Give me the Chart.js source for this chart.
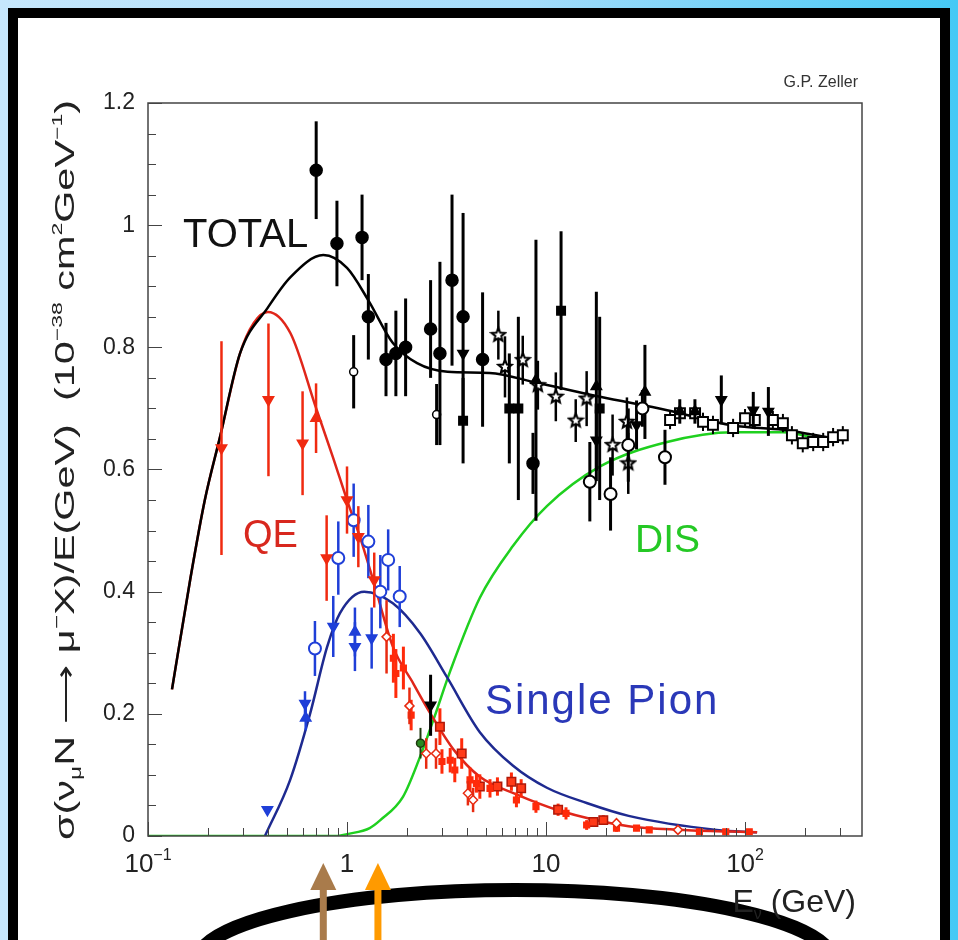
<!DOCTYPE html>
<html>
<head>
<meta charset="utf-8">
<script src="https://cdn.jsdelivr.net/npm/chart.js@4.4.1/dist/chart.umd.min.js"></script>
<style>
  html, body { margin: 0; padding: 0; }
  body {
    width: 958px; height: 940px; overflow: hidden; position: relative;
    background: linear-gradient(90deg, #c6e7fc 0%, #a4dcfb 55%, #45c9f5 100%);
  }
  #panel {
    position: absolute; left: 8px; top: 8px; width: 942px; height: 960px;
    box-sizing: border-box; border: 10px solid #000; border-bottom: none; background: #fff;
  }
  #chart { position: absolute; left: 0; top: 0; }
</style>
</head>
<body>
<div id="panel"></div>
<canvas id="chart" width="958" height="940"></canvas>
<script>
// ==========================================
// 1. DATA  (E in GeV, sigma/E in 1e-38 cm^2/GeV)
// ==========================================
const yTickLabels = ['0', '0.2', '0.4', '0.6', '0.8', '1', '1.2'];
const xTickValues = [0.1, 1, 10, 100];
const xTickLabels = [['10', '\u22121'], ['1', ''], ['10', ''], ['10', '2']];

// model curves
const totalE  = [0.132, 0.163, 0.193, 0.23, 0.29, 0.40, 0.52, 0.76, 1.0, 1.28, 1.7, 2.25, 3.2, 5.2, 9.0, 18.7, 40.6, 87, 155, 277];
const totalXs = [0.24, 0.42, 0.55, 0.653, 0.79, 0.865, 0.915, 0.951, 0.93, 0.877, 0.807, 0.774, 0.76, 0.758, 0.742, 0.719, 0.697, 0.672, 0.665, 0.651];

const qeE  = [0.132, 0.163, 0.193, 0.23, 0.29, 0.34, 0.40, 0.52, 0.70, 0.85, 1.0, 1.16, 1.35, 1.7, 2.15, 2.63, 3.44, 4.65, 7.1, 11.3, 26, 49, 115];
const qeXs = [0.24, 0.42, 0.55, 0.653, 0.79, 0.84, 0.858, 0.823, 0.70, 0.62, 0.55, 0.49, 0.42, 0.31, 0.25, 0.20, 0.141, 0.097, 0.068, 0.043, 0.016, 0.01, 0.006];

const pionE  = [0.387, 0.518, 0.652, 0.795, 0.922, 1.22, 1.7, 2.33, 3.18, 4.65, 6.83, 10.1, 16, 26, 72, 115];
const pionXs = [0, 0.092, 0.2, 0.31, 0.365, 0.40, 0.381, 0.332, 0.26, 0.17, 0.115, 0.079, 0.054, 0.033, 0.01, 0.006];

const disE  = [0.1, 0.9, 1.0, 1.3, 1.47, 1.91, 2.33, 2.75, 3.3, 4.65, 6.83, 10.1, 18.7, 40.6, 87, 155, 267];
const disXs = [0, 0, 0.003, 0.013, 0.026, 0.064, 0.13, 0.195, 0.27, 0.39, 0.475, 0.54, 0.605, 0.645, 0.661, 0.661, 0.645];

// measurements [E, value, error]
const blackDot = [[0.70,1.09,0.08],[0.89,0.97,0.07],[1.19,0.98,0.07],[1.28,0.85,0.07],[1.57,0.78,0.06],[1.76,0.79,0.07],
  [1.97,0.80,0.08],[2.63,0.83,0.08],[2.93,0.79,0.15],[3.37,0.91,0.14],[3.83,0.85,0.17],[4.8,0.78,0.11],[8.6,0.61,0.05]];
const blackRing = [[1.08,0.76,0.06],[2.82,0.69,0.05]];
const blackRingBig = [[16.6,0.58,0.065],[21.1,0.56,0.06],[25.9,0.64,0.06],[30.5,0.70,0.03],[39.6,0.62,0.045]];
const blackSquare = [[3.83,0.68,0.07],[6.54,0.70,0.09],[7.26,0.70,0.15],[11.9,0.86,0.13],[18.6,0.70,0.15]];
const blackTriDown = [[3.83,0.79,0],[17.9,0.648,0.05],[28.5,0.673,0.04],[76,0.714,0.04],[110,0.697,0.03],[131,0.695,0.04],[2.63,0.214,0.05]];
const blackTriUp = [[8.9,0.746,0.23],[17.9,0.736,0.155],[31.4,0.727,0.077],[47,0.695,0.02],[56,0.695,0.02]];
const blackStar = [[5.76,0.82,0.04],[6.22,0.768,0.05],[7.64,0.779,0.04],[9.1,0.738,0.04],[11.2,0.719,0.04],[14.1,0.68,0.035],
  [16.0,0.716,0.045],[21.6,0.64,0.05],[25.5,0.678,0.04],[25.9,0.61,0.05]];
const blackOpenSq = [[42,0.681,0.015],[47.1,0.692,0.015],[56.1,0.692,0.015],[61.5,0.678,0.015],[69,0.673,0.015],[87.1,0.668,0.015],
  [100,0.684,0.015],[112,0.681,0.015],[138,0.681,0.015],[155,0.676,0.015],[172,0.656,0.015],[195,0.643,0.015],[220,0.645,0.015],
  [247,0.645,0.015],[277,0.653,0.015],[310,0.656,0.015]];

const redTriDown = [[0.234,0.635,0.175],[0.403,0.714,0.125],[0.598,0.643,0.085],[0.79,0.455,0.07],[1.0,0.55,0.055],[1.14,0.49,0.05],[1.37,0.419,0.045]];
const redTriUp = [[0.699,0.684,0.057]];
const redRing = [[1.58,0.326,0.06],[2.06,0.213,0.03],[2.5,0.135,0.025],[2.8,0.135,0.025],[4.05,0.07,0.02],[4.3,0.059,0.02],[22.6,0.021,0.005],[46,0.01,0.005]];
const redCross = [[1.71,0.291,0.04],[1.76,0.266,0.04],[1.92,0.275,0.035],[2.1,0.198,0.025],[3.0,0.122,0.02],[3.3,0.124,0.02],
  [3.48,0.108,0.02],[4.15,0.092,0.02],[4.47,0.086,0.015],[5.23,0.078,0.015],[7.1,0.059,0.012],[8.9,0.048,0.01],[12.6,0.037,0.01],
  [16.0,0.018,0.008],[22.6,0.013,0.006],[28.5,0.013,0.005],[33,0.01,0.005],[59,0.007,0.004],[80,0.007,0.004],[105,0.007,0.004]];
const redSquare = [[2.93,0.179,0.03],[3.77,0.135,0.025],[4.65,0.081,0.02],[5.7,0.081,0.015],[6.7,0.089,0.015],[7.5,0.078,0.015],
  [11.5,0.043,0.01],[17.3,0.023,0.008],[19.4,0.026,0.008]];

const blueRing = [[0.69,0.307,0.045],[0.904,0.455,0.06],[1.08,0.517,0.06],[1.28,0.482,0.06],[1.47,0.40,0.06],[1.61,0.452,0.05],[1.84,0.392,0.05]];
const blueTriDown = [[0.398,0.043,0],[0.615,0.217,0.02],[0.853,0.343,0.05],[1.096,0.31,0.04],[1.33,0.324,0.05]];
const blueTriUp = [[0.62,0.193,0.02],[1.096,0.334,0.04]];
const greenRing = [[2.34,0.152,0.025]];

// energies marked by the arrows under the axis
const arrowE = [0.76, 1.43];
const arrowColors = ['#a97b4b', '#ff9a00'];

// ==========================================
// 2. HELPERS
// ==========================================
const curve = (xs, ys) => xs.map((x, i) => ({ x: x, y: ys[i] }));
const pts = arr => arr.map(p => ({ x: p[0], y: p[1], e: p[2] }));

function makeStar(r, fill, stroke) {
    const c = document.createElement('canvas');
    const s = Math.ceil(2 * r + 4);
    c.width = c.height = s;
    const g = c.getContext('2d');
    g.beginPath();
    for (let i = 0; i < 10; i++) {
        const rr = i % 2 ? r * 0.45 : r;
        const a = -Math.PI / 2 + i * Math.PI / 5;
        g.lineTo(s / 2 + rr * Math.cos(a), s / 2 + rr * Math.sin(a));
    }
    g.closePath();
    g.fillStyle = fill; g.fill();
    g.lineWidth = 2; g.strokeStyle = stroke; g.stroke();
    return c;
}

function lineSet(xs, ys, color) {
    return {
        type: 'line', data: curve(xs, ys), borderColor: color, borderWidth: 2.5,
        pointRadius: 0, tension: 0.4, cubicInterpolationMode: 'monotone', order: 10
    };
}

function markSet(arr, style, color, opts) {
    return Object.assign({
        type: 'scatter', data: pts(arr), pointStyle: style, pointRadius: 6,
        pointBackgroundColor: color, pointBorderColor: color, pointBorderWidth: 1.5,
        errColor: color, errWidth: 3, order: 0
    }, opts || {});
}

function richWidth(ctx, parts, size, family) {
    let w = 0;
    parts.forEach(p => { ctx.font = Math.round(size * p[1]) + 'px ' + family; w += ctx.measureText(p[0]).width; });
    return w;
}

function drawRich(ctx, parts, x, y, size, family, align) {
    const w = richWidth(ctx, parts, size, family);
    let cx = align === 'center' ? x - w / 2 : (align === 'right' ? x - w : x);
    ctx.textAlign = 'left';
    ctx.textBaseline = 'alphabetic';
    parts.forEach(p => {
        ctx.font = Math.round(size * p[1]) + 'px ' + family;
        ctx.fillText(p[0], cx, y + p[2] * size);
        cx += ctx.measureText(p[0]).width;
    });
}

const FONT = '"Liberation Sans", Arial, sans-serif';

// ==========================================
// 3. PLUGINS
// ==========================================
const errorBars = {
    id: 'errorBars',
    beforeDatasetDraw(chart, args) {
        const ds = chart.data.datasets[args.index];
        if (!ds.errColor) return;
        const ctx = chart.ctx, ys = chart.scales.y;
        const meta = chart.getDatasetMeta(args.index);
        ctx.save();
        ctx.strokeStyle = ds.errColor;
        ctx.lineWidth = ds.errWidth;
        meta.data.forEach((el, i) => {
            const d = ds.data[i];
            if (!d.e) return;
            ctx.beginPath();
            ctx.moveTo(el.x, ys.getPixelForValue(d.y + d.e));
            ctx.lineTo(el.x, ys.getPixelForValue(Math.max(0, d.y - d.e)));
            ctx.stroke();
        });
        ctx.restore();
    }
};

const decorations = {
    id: 'decorations',
    afterDraw(chart) {
        const ctx = chart.ctx, a = chart.chartArea;
        const xs = chart.scales.x, ys = chart.scales.y;
        ctx.save();

        // big arc under the axis (drawn first so the texts and arrows sit over it)
        ctx.beginPath();
        ctx.ellipse(515, 962, 318, 72, 0, Math.PI, 2 * Math.PI);
        ctx.lineWidth = 14;
        ctx.strokeStyle = '#000';
        ctx.stroke();

        // arrows pointing at energies on the axis
        arrowE.forEach((e, i) => {
            const px = xs.getPixelForValue(e);
            ctx.fillStyle = arrowColors[i];
            ctx.fillRect(px - 3.5, 886, 7, 60);
            ctx.beginPath();
            ctx.moveTo(px, 863);
            ctx.lineTo(px - 13, 890);
            ctx.lineTo(px + 13, 890);
            ctx.closePath();
            ctx.fill();
        });

        // frame
        ctx.strokeStyle = '#444';
        ctx.lineWidth = 1.5;
        ctx.strokeRect(a.left, a.top, a.right - a.left, a.bottom - a.top);

        // inner ticks on y
        ctx.beginPath();
        for (let k = 0; k <= 24; k++) {
            const py = Math.round(ys.getPixelForValue(k * 0.05)) + 0.5;
            const len = k % 4 === 0 ? 14 : 8;
            ctx.moveTo(a.left, py); ctx.lineTo(a.left + len, py);
        }
        // inner ticks on x
        for (let d = 0.1; d < 1000; d *= 10) {
            for (let m = 1; m <= 9; m++) {
                const v = d * m;
                if (v > xs.max) break;
                const px = Math.round(xs.getPixelForValue(v)) + 0.5;
                const len = m === 1 ? 14 : 8;
                ctx.moveTo(px, a.bottom); ctx.lineTo(px, a.bottom - len);
            }
        }
        ctx.lineWidth = 1;
        ctx.stroke();

        // x tick labels
        ctx.fillStyle = '#222';
        xTickValues.forEach((v, i) => {
            const lab = xTickLabels[i];
            const parts = [[lab[0], 1, 0]];
            if (lab[1]) parts.push([lab[1], 0.62, -0.45]);
            drawRich(ctx, parts, xs.getPixelForValue(v), a.bottom + 36, 26, FONT, 'center');
        });

        // x title
        drawRich(ctx, [['E', 1, 0], ['\u03bd', 0.5, 0.22], [' (GeV)', 1, 0]], a.right - 6, a.bottom + 76, 32, FONT, 'right');

        // y title (rotated, stretched along the axis like the original)
        const yTitle = [
            ['\u03c3(\u03bd', 1, 0], ['\u03bc', 0.6, 0.25], ['N \u27f6 \u03bc', 1, 0], ['\u2212', 0.6, -0.45],
            ['X)/E(GeV)  (10', 1, 0], ['\u221238', 0.55, -0.45], [' cm', 1, 0], ['2', 0.55, -0.45],
            ['GeV', 1, 0], ['\u22121', 0.55, -0.45], [')', 1, 0]
        ];
        const tw = richWidth(ctx, yTitle, 27, FONT);
        ctx.save();
        ctx.translate(64, 470);
        ctx.rotate(-Math.PI / 2);
        ctx.scale(740 / tw, 1);
        drawRich(ctx, yTitle, 0, 10, 27, FONT, 'center');
        ctx.restore();

        // author tag
        ctx.fillStyle = '#333';
        drawRich(ctx, [['G.P. Zeller', 1, 0]], a.right - 4, a.top - 16, 16, FONT, 'right');

        // curve labels, anchored in data coordinates
        const lbl = (t, e, v, size, color) => {
            ctx.fillStyle = color;
            drawRich(ctx, [[t, 1, 0]], xs.getPixelForValue(e), ys.getPixelForValue(v), size, FONT, 'left');
        };
        lbl('TOTAL', 0.15, 0.964, 40, '#111');
        lbl('QE', 0.30, 0.473, 38, '#d8281e');
        lbl('DIS', 28, 0.465, 39, '#25c825');
        ctx.letterSpacing = '2px';
        lbl('Single Pion', 4.93, 0.20, 42, '#2a38b8');
        ctx.letterSpacing = '0px';

        ctx.restore();
    }
};

// ==========================================
// 4. CHART
// ==========================================
const starBlack = makeStar(7, '#fff', '#000');

new Chart(document.getElementById('chart'), {
    type: 'scatter',
    data: {
        datasets: [
            markSet(blackDot, 'circle', '#000'),
            markSet(blackRing, 'circle', '#000', { pointRadius: 4, pointBackgroundColor: '#fff' }),
            markSet(blackRingBig, 'circle', '#000', { pointRadius: 6, pointBackgroundColor: '#fff', pointBorderWidth: 2 }),
            markSet(blackSquare, 'rect', '#000', { pointRadius: 6 }),
            markSet(blackTriDown, 'triangle', '#000', { pointRotation: 180, pointRadius: 6 }),
            markSet(blackTriUp, 'triangle', '#000', { pointRadius: 6 }),
            markSet(blackStar, starBlack, '#000', { errWidth: 2.5 }),
            markSet(blackOpenSq, 'rect', '#000', { pointRadius: 7, pointBackgroundColor: '#fff', pointBorderWidth: 2, errWidth: 2 }),
            markSet(redTriDown, 'triangle', '#f02a10', { pointRotation: 180, errWidth: 2.5 }),
            markSet(redTriUp, 'triangle', '#f02a10', { errWidth: 2.5 }),
            markSet(redRing, 'rectRot', '#e82a10', { pointRadius: 4.5, pointBackgroundColor: '#fff', errWidth: 2.5 }),
            markSet(redCross, 'rect', '#ff2a0a', { pointRadius: 4, errWidth: 3 }),
            markSet(redSquare, 'rect', '#ff2a0a', { pointRadius: 6, pointBackgroundColor: '#ff3a18', pointBorderColor: '#b01808', errWidth: 3 }),
            markSet(blueRing, 'circle', '#1f3fd8', { pointBackgroundColor: '#fff', pointBorderWidth: 2, errWidth: 2.5 }),
            markSet(blueTriDown, 'triangle', '#1f3fd8', { pointRotation: 180, errWidth: 2.5 }),
            markSet(blueTriUp, 'triangle', '#1f3fd8', { errWidth: 2.5 }),
            markSet(greenRing, 'circle', '#203a10', { pointRadius: 4, pointBackgroundColor: '#2a8a20', errWidth: 2 }),
            // curves: first listed is drawn on top
            lineSet(totalE, totalXs, '#000'),
            lineSet(qeE, qeXs, '#e0261a'),
            lineSet(pionE, pionXs, '#1e2a90'),
            lineSet(disE, disXs, '#1fd01f')
        ]
    },
    options: {
        responsive: false,
        animation: false,
        devicePixelRatio: 1,
        layout: { padding: { left: 0, top: 103, right: 96, bottom: 0 } },
        plugins: { legend: { display: false }, tooltip: { enabled: false } },
        scales: {
            x: {
                type: 'logarithmic', min: 0.1, max: 387,
                grid: { display: false, drawTicks: false }, border: { display: false },
                ticks: { display: false },
                afterFit: s => { s.height = 104; }
            },
            y: {
                min: 0, max: 1.2,
                grid: { display: false, drawTicks: false }, border: { display: false },
                ticks: {
                    stepSize: 0.2, padding: 13, color: '#222',
                    font: { family: FONT, size: 23 },
                    callback: (v, i) => yTickLabels[i]
                },
                afterFit: s => { s.width = 148; }
            }
        }
    },
    plugins: [errorBars, decorations]
});
</script>
</body>
</html>
